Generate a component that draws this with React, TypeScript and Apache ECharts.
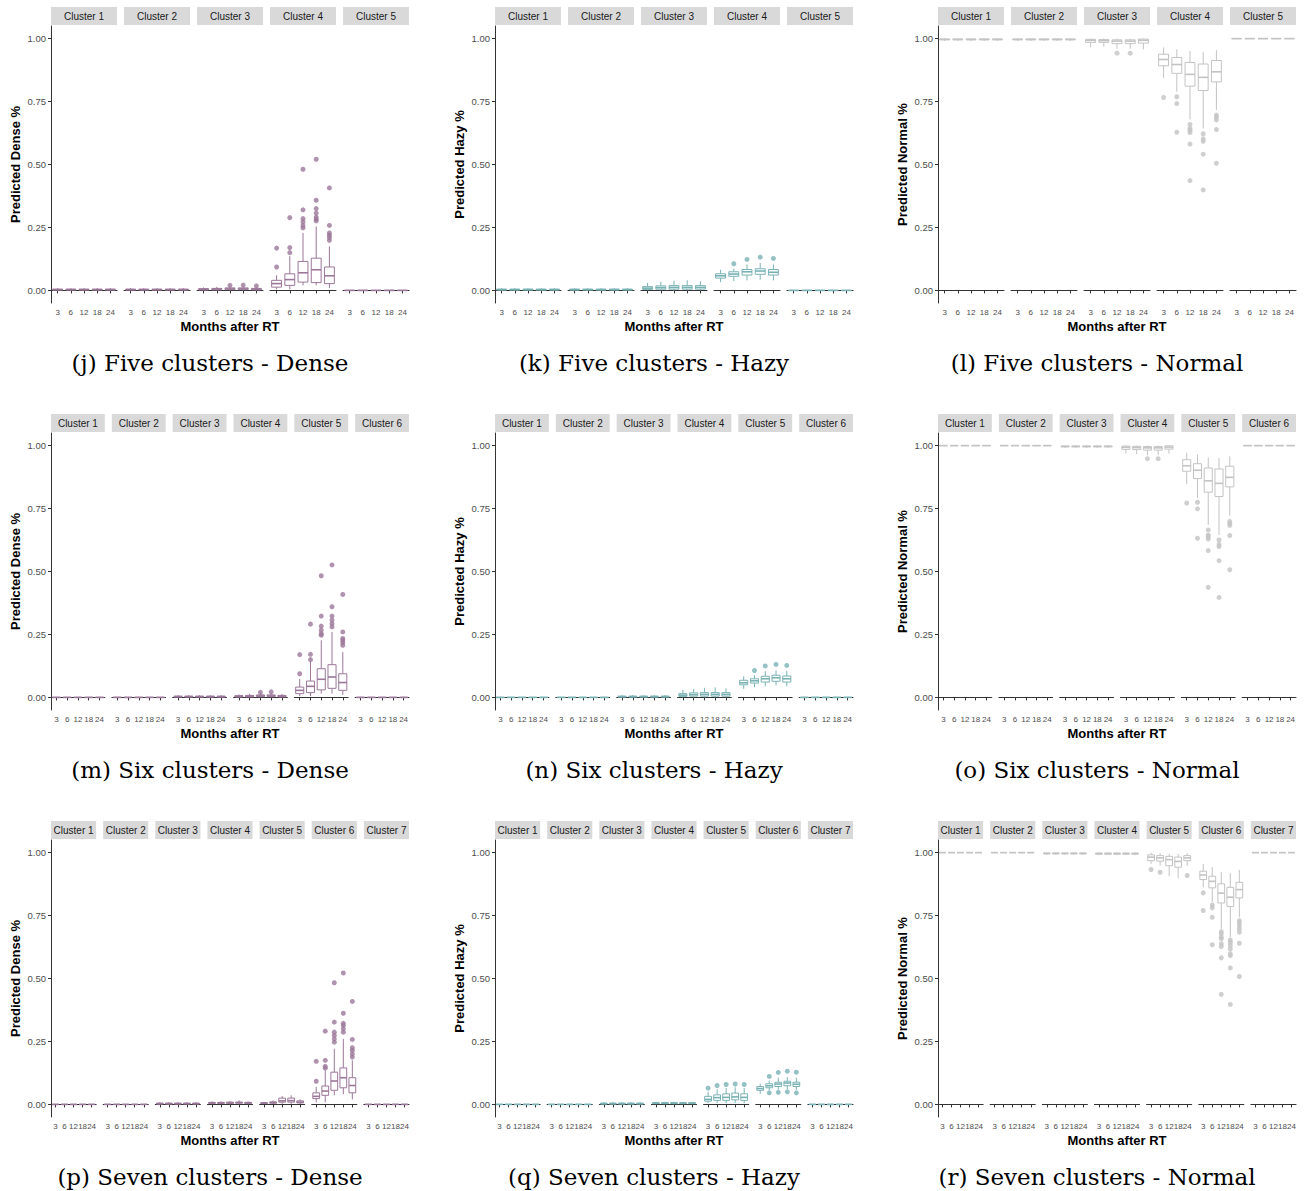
import React, { useEffect, useRef } from "react";
import * as echarts from "echarts";

// ---------- categories / labels ----------
const months = ["3", "6", "12", "18", "24"];
const yTickValues = [0, 0.25, 0.5, 0.75, 1];
const clusterCounts = [5, 6, 7];
const rowWords = ["Five", "Six", "Seven"];
const classNames = ["Dense", "Hazy", "Normal"];
const panelLetters = [["j", "k", "l"], ["m", "n", "o"], ["p", "q", "r"]];
const classColors = ["#9B7799", "#79B2B4", "#C3C3C3"];

// ---------- reusable box stats [min, q1, median, q3, max] ----------
const zeroFlat = [0, 0, 0, 0, 0];
const oneFlat = [1, 1, 1, 1, 1];
const nearZero = [0, 0.002, 0.003, 0.005, 0.009];
const nearOne = [0.991, 0.995, 0.997, 0.998, 1];

// ---------- Dense ----------
const fiveDense = [
  [nearZero, nearZero, nearZero, nearZero, nearZero],
  [nearZero, nearZero, nearZero, nearZero, nearZero],
  [[0, 0.002, 0.004, 0.007, 0.012], [0, 0.002, 0.005, 0.008, 0.014], [0, 0.003, 0.006, 0.01, 0.016], [0, 0.003, 0.006, 0.01, 0.017], [0, 0.002, 0.005, 0.008, 0.014]],
  [[0.004, 0.013, 0.027, 0.04, 0.06], [0.004, 0.02, 0.043, 0.066, 0.136], [0.02, 0.033, 0.07, 0.115, 0.228], [0.02, 0.031, 0.082, 0.128, 0.254], [0.01, 0.027, 0.058, 0.093, 0.175]],
  [zeroFlat, zeroFlat, zeroFlat, zeroFlat, zeroFlat],
];
// [cluster, month index, ...outlier values]
const fiveDenseOut = [
  [2, 2, 0.02], [2, 3, 0.021], [2, 4, 0.018],
  [3, 0, 0.093, 0.168],
  [3, 1, 0.15, 0.17, 0.289],
  [3, 2, 0.248, 0.258, 0.272, 0.285, 0.32, 0.481],
  [3, 3, 0.276, 0.283, 0.291, 0.307, 0.325, 0.358, 0.521],
  [3, 4, 0.199, 0.21, 0.219, 0.228, 0.258, 0.407],
];

const sixDense = [
  [zeroFlat, zeroFlat, zeroFlat, zeroFlat, zeroFlat],
  [zeroFlat, zeroFlat, zeroFlat, zeroFlat, zeroFlat],
  [nearZero, nearZero, nearZero, nearZero, nearZero],
  [[0, 0.002, 0.004, 0.007, 0.012], [0, 0.002, 0.005, 0.008, 0.014], [0, 0.003, 0.006, 0.01, 0.016], [0, 0.003, 0.006, 0.01, 0.017], [0, 0.002, 0.005, 0.008, 0.014]],
  [[0.005, 0.015, 0.028, 0.041, 0.074], [0.005, 0.019, 0.044, 0.065, 0.143], [0.015, 0.03, 0.072, 0.114, 0.227], [0.015, 0.036, 0.081, 0.13, 0.26], [0.01, 0.028, 0.059, 0.094, 0.18]],
  [zeroFlat, zeroFlat, zeroFlat, zeroFlat, zeroFlat],
];
const sixDenseOut = [
  [3, 2, 0.02], [3, 3, 0.022],
  [4, 0, 0.094, 0.17],
  [4, 1, 0.15, 0.171, 0.291],
  [4, 2, 0.247, 0.253, 0.267, 0.283, 0.323, 0.483],
  [4, 3, 0.28, 0.293, 0.307, 0.323, 0.36, 0.526],
  [4, 4, 0.207, 0.218, 0.227, 0.234, 0.26, 0.409],
];

const sevenDense = [
  [zeroFlat, zeroFlat, zeroFlat, zeroFlat, zeroFlat],
  [zeroFlat, zeroFlat, zeroFlat, zeroFlat, zeroFlat],
  [nearZero, nearZero, nearZero, nearZero, nearZero],
  [[0, 0.004, 0.006, 0.008, 0.012], [0, 0.004, 0.006, 0.008, 0.012], [0, 0.004, 0.006, 0.009, 0.013], [0, 0.005, 0.007, 0.009, 0.016], [0, 0.004, 0.006, 0.008, 0.012]],
  [[0.002, 0.004, 0.005, 0.007, 0.01], [0.002, 0.005, 0.007, 0.01, 0.016], [0.002, 0.009, 0.014, 0.025, 0.033], [0.002, 0.009, 0.015, 0.025, 0.036], [0.002, 0.006, 0.009, 0.014, 0.02]],
  [[0.008, 0.023, 0.032, 0.046, 0.07], [0.008, 0.036, 0.053, 0.073, 0.135], [0.036, 0.056, 0.093, 0.128, 0.221], [0.04, 0.066, 0.106, 0.145, 0.26], [0.02, 0.046, 0.075, 0.106, 0.175]],
  [zeroFlat, zeroFlat, zeroFlat, zeroFlat, zeroFlat],
];
const sevenDenseOut = [
  [5, 0, 0.092, 0.171],
  [5, 1, 0.144, 0.151, 0.175, 0.291],
  [5, 2, 0.247, 0.26, 0.274, 0.287, 0.327, 0.483],
  [5, 3, 0.287, 0.3, 0.313, 0.322, 0.362, 0.522],
  [5, 4, 0.188, 0.2, 0.214, 0.225, 0.258, 0.409],
];

// ---------- Hazy ----------
const fiveHazy = [
  [nearZero, nearZero, nearZero, nearZero, nearZero],
  [nearZero, nearZero, nearZero, nearZero, nearZero],
  [[0, 0.004, 0.009, 0.015, 0.03], [0, 0.005, 0.011, 0.018, 0.034], [0, 0.005, 0.012, 0.019, 0.038], [0, 0.005, 0.012, 0.019, 0.04], [0, 0.005, 0.012, 0.019, 0.036]],
  [[0.033, 0.049, 0.058, 0.066, 0.082], [0.037, 0.056, 0.065, 0.074, 0.086], [0.04, 0.061, 0.074, 0.083, 0.103], [0.043, 0.064, 0.077, 0.086, 0.109], [0.04, 0.061, 0.072, 0.083, 0.103]],
  [zeroFlat, zeroFlat, zeroFlat, zeroFlat, zeroFlat],
];
const fiveHazyOut = [[3, 1, 0.106], [3, 2, 0.123], [3, 3, 0.132], [3, 4, 0.127]];

const sixHazy = [
  [zeroFlat, zeroFlat, zeroFlat, zeroFlat, zeroFlat],
  [zeroFlat, zeroFlat, zeroFlat, zeroFlat, zeroFlat],
  [nearZero, nearZero, nearZero, nearZero, nearZero],
  [[0, 0.004, 0.009, 0.015, 0.03], [0, 0.005, 0.011, 0.018, 0.034], [0, 0.005, 0.012, 0.019, 0.038], [0, 0.005, 0.012, 0.019, 0.04], [0, 0.005, 0.012, 0.019, 0.036]],
  [[0.034, 0.05, 0.058, 0.068, 0.084], [0.041, 0.057, 0.066, 0.074, 0.088], [0.044, 0.061, 0.074, 0.084, 0.104], [0.048, 0.064, 0.078, 0.088, 0.107], [0.044, 0.061, 0.074, 0.085, 0.105]],
  [zeroFlat, zeroFlat, zeroFlat, zeroFlat, zeroFlat],
];
const sixHazyOut = [[4, 1, 0.107], [4, 2, 0.125], [4, 3, 0.131], [4, 4, 0.127]];

const sevenHazy = [
  [zeroFlat, zeroFlat, zeroFlat, zeroFlat, zeroFlat],
  [zeroFlat, zeroFlat, zeroFlat, zeroFlat, zeroFlat],
  [nearZero, nearZero, nearZero, nearZero, nearZero],
  [[0.001, 0.003, 0.005, 0.007, 0.01], [0.001, 0.003, 0.005, 0.007, 0.01], [0.001, 0.003, 0.005, 0.007, 0.01], [0.001, 0.003, 0.005, 0.007, 0.01], [0.001, 0.003, 0.005, 0.007, 0.01]],
  [[0.005, 0.013, 0.02, 0.032, 0.05], [0.005, 0.016, 0.027, 0.038, 0.06], [0.005, 0.016, 0.028, 0.042, 0.065], [0.005, 0.018, 0.03, 0.045, 0.068], [0.005, 0.016, 0.028, 0.042, 0.065]],
  [[0.042, 0.056, 0.063, 0.071, 0.082], [0.056, 0.066, 0.074, 0.082, 0.095], [0.058, 0.071, 0.081, 0.088, 0.106], [0.061, 0.074, 0.085, 0.092, 0.108], [0.058, 0.071, 0.08, 0.088, 0.106]],
  [zeroFlat, zeroFlat, zeroFlat, zeroFlat, zeroFlat],
];
const sevenHazyOut = [
  [4, 0, 0.065], [4, 1, 0.075], [4, 2, 0.079], [4, 3, 0.081], [4, 4, 0.079],
  [5, 1, 0.111, 0.046], [5, 2, 0.127, 0.048], [5, 3, 0.132, 0.05], [5, 4, 0.128, 0.046],
];

// ---------- Normal ----------
const fiveNormal = [
  [nearOne, nearOne, nearOne, nearOne, nearOne],
  [nearOne, nearOne, nearOne, nearOne, nearOne],
  [[0.965, 0.985, 0.993, 0.997, 1], [0.968, 0.985, 0.992, 0.996, 1], [0.96, 0.98, 0.99, 0.995, 1], [0.96, 0.98, 0.99, 0.995, 1], [0.957, 0.982, 0.993, 0.998, 1]],
  [[0.844, 0.892, 0.917, 0.938, 0.965], [0.789, 0.862, 0.897, 0.925, 0.958], [0.679, 0.811, 0.858, 0.905, 0.95], [0.643, 0.794, 0.846, 0.899, 0.946], [0.716, 0.828, 0.868, 0.913, 0.954]],
  [oneFlat, oneFlat, oneFlat, oneFlat, oneFlat],
];
const fiveNormalOut = [
  [2, 2, 0.942], [2, 3, 0.942],
  [3, 0, 0.766],
  [3, 1, 0.769, 0.742, 0.628],
  [3, 2, 0.659, 0.643, 0.636, 0.627, 0.581, 0.436],
  [3, 3, 0.622, 0.602, 0.592, 0.541, 0.399],
  [3, 4, 0.696, 0.688, 0.677, 0.639, 0.505],
];

const sixNormal = [
  [oneFlat, oneFlat, oneFlat, oneFlat, oneFlat],
  [oneFlat, oneFlat, oneFlat, oneFlat, oneFlat],
  [nearOne, nearOne, nearOne, nearOne, nearOne],
  [[0.968, 0.985, 0.993, 0.998, 1], [0.966, 0.984, 0.992, 0.997, 1], [0.962, 0.982, 0.991, 0.996, 1], [0.962, 0.982, 0.991, 0.996, 1], [0.968, 0.986, 0.994, 0.999, 1]],
  [[0.847, 0.898, 0.92, 0.944, 0.971], [0.792, 0.869, 0.902, 0.928, 0.964], [0.685, 0.815, 0.86, 0.911, 0.953], [0.645, 0.798, 0.85, 0.907, 0.951], [0.721, 0.836, 0.874, 0.918, 0.957]],
  [oneFlat, oneFlat, oneFlat, oneFlat, oneFlat],
];
const sixNormalOut = [
  [3, 2, 0.948], [3, 3, 0.948],
  [4, 0, 0.772],
  [4, 1, 0.775, 0.749, 0.632],
  [4, 2, 0.665, 0.645, 0.639, 0.629, 0.583, 0.437],
  [4, 3, 0.625, 0.608, 0.599, 0.543, 0.397],
  [4, 4, 0.699, 0.691, 0.683, 0.643, 0.507],
];

const sevenNormal = [
  [oneFlat, oneFlat, oneFlat, oneFlat, oneFlat],
  [oneFlat, oneFlat, oneFlat, oneFlat, oneFlat],
  [nearOne, nearOne, nearOne, nearOne, nearOne],
  [[0.99, 0.994, 0.996, 0.998, 1], [0.99, 0.994, 0.996, 0.998, 1], [0.99, 0.994, 0.996, 0.998, 1], [0.99, 0.994, 0.996, 0.998, 1], [0.99, 0.994, 0.996, 0.998, 1]],
  [[0.955, 0.968, 0.982, 0.991, 1], [0.948, 0.966, 0.979, 0.988, 0.998], [0.906, 0.948, 0.972, 0.985, 0.995], [0.898, 0.942, 0.965, 0.982, 0.995], [0.948, 0.968, 0.979, 0.988, 0.998]],
  [[0.862, 0.893, 0.911, 0.926, 0.955], [0.803, 0.86, 0.886, 0.906, 0.942], [0.697, 0.8, 0.839, 0.876, 0.922], [0.664, 0.786, 0.823, 0.862, 0.918], [0.743, 0.82, 0.853, 0.882, 0.931]],
  [oneFlat, oneFlat, oneFlat, oneFlat, oneFlat],
];
const sevenNormalOut = [
  [4, 0, 0.933], [4, 1, 0.922], [4, 4, 0.909],
  [5, 0, 0.84, 0.77],
  [5, 1, 0.792, 0.781, 0.743, 0.634],
  [5, 2, 0.686, 0.677, 0.664, 0.658, 0.638, 0.627, 0.582, 0.437],
  [5, 3, 0.653, 0.644, 0.631, 0.617, 0.598, 0.591, 0.542, 0.397],
  [5, 4, 0.73, 0.72, 0.709, 0.697, 0.684, 0.64, 0.508],
];

const panelBoxes = [
  [fiveDense, fiveHazy, fiveNormal],
  [sixDense, sixHazy, sixNormal],
  [sevenDense, sevenHazy, sevenNormal],
];
const panelOutliers = [
  [fiveDenseOut, fiveHazyOut, fiveNormalOut],
  [sixDenseOut, sixHazyOut, sixNormalOut],
  [sevenDenseOut, sevenHazyOut, sevenNormalOut],
];

// ---------- layout ----------
const colLeft = [51, 495, 938];
const rowTop = [26, 433, 840];
const panelW = 358;
const facetGap = 7;
const plotH = 277;
const SANS = "'Liberation Sans', Arial, sans-serif";
const SERIF = "'DejaVu Serif', 'Liberation Serif', serif";

function buildOption() {
  const grid: any[] = [];
  const xAxis: any[] = [];
  const yAxis: any[] = [];
  const series: any[] = [];
  const graphic: any[] = [];

  for (let r = 0; r < 3; r++) {
    const n = clusterCounts[r];
    const w = (panelW - facetGap * (n - 1)) / n;
    for (let c = 0; c < 3; c++) {
      const color = classColors[c];
      const boxes = panelBoxes[r][c];
      const outs = panelOutliers[r][c];
      const top = rowTop[r];
      for (let f = 0; f < n; f++) {
        const left = colLeft[c] + f * (w + facetGap);
        const idx = grid.length;
        grid.push({ left, top, width: w, height: plotH });
        xAxis.push({
          type: "category",
          gridIndex: idx,
          data: months,
          boundaryGap: true,
          axisLine: { show: true, lineStyle: { color: "#333333", width: 1 } },
          axisTick: { show: true, alignWithLabel: true, length: 3, lineStyle: { color: "#333333" } },
          axisLabel: { interval: 0, fontSize: 8, color: "#4D4D4D", margin: 5, fontFamily: SANS },
          splitLine: { show: false },
        });
        const first = f === 0;
        yAxis.push({
          type: "value",
          gridIndex: idx,
          min: -0.05,
          max: 1.05,
          show: first,
          axisLine: { show: true, lineStyle: { color: "#333333", width: 1 } },
          axisTick: { show: true, length: 3, customValues: yTickValues, lineStyle: { color: "#333333" } },
          axisLabel: {
            customValues: yTickValues,
            formatter: (v: number) => v.toFixed(2),
            fontSize: 9.5,
            color: "#4D4D4D",
            margin: 5,
            fontFamily: SANS,
          },
          splitLine: { show: false },
        });
        series.push({
          type: "custom",
          xAxisIndex: idx,
          yAxisIndex: idx,
          silent: true,
          data: boxes[f].map((s: number[], i: number) => [i, ...s]),
          encode: { x: 0, y: [1, 2, 3, 4, 5] },
          renderItem: (params: any, api: any) => {
            const xi = api.value(0);
            const pMin = api.coord([xi, api.value(1)]);
            const pQ1 = api.coord([xi, api.value(2)]);
            const pMd = api.coord([xi, api.value(3)]);
            const pQ3 = api.coord([xi, api.value(4)]);
            const pMax = api.coord([xi, api.value(5)]);
            const bw = api.size([1, 0])[0] * 0.75;
            const cx = pMd[0];
            const ls = { stroke: color, lineWidth: 1, fill: null };
            return {
              type: "group",
              children: [
                { type: "line", shape: { x1: cx, y1: pMax[1], x2: cx, y2: pQ3[1] }, style: ls },
                { type: "line", shape: { x1: cx, y1: pQ1[1], x2: cx, y2: pMin[1] }, style: ls },
                {
                  type: "rect",
                  shape: { x: cx - bw / 2, y: pQ3[1], width: bw, height: Math.max(pQ1[1] - pQ3[1], 0.01) },
                  style: { fill: "#ffffff", stroke: color, lineWidth: 1 },
                },
                { type: "line", shape: { x1: cx - bw / 2, y1: pMd[1], x2: cx + bw / 2, y2: pMd[1] }, style: { stroke: color, lineWidth: 1.6 } },
              ],
            };
          },
        });
        const pts: number[][] = [];
        outs.forEach((o: number[]) => {
          if (o[0] === f) {
            for (let k = 2; k < o.length; k++) pts.push([o[1], o[k]]);
          }
        });
        series.push({
          type: "scatter",
          xAxisIndex: idx,
          yAxisIndex: idx,
          silent: true,
          symbol: "circle",
          symbolSize: 5,
          itemStyle: { color },
          data: pts,
        });
        // facet strip
        graphic.push({
          type: "rect",
          shape: { x: left, y: top - 19, width: w, height: 18 },
          style: { fill: "#D9D9D9" },
          silent: true,
        });
        graphic.push({
          type: "text",
          x: left + w / 2,
          y: top - 10,
          silent: true,
          style: {
            text: "Cluster " + (f + 1),
            font: `10px ${SANS}`,
            fill: "#1A1A1A",
            textAlign: "center",
            textVerticalAlign: "middle",
          },
        });
      }
      // axis titles
      graphic.push({
        type: "text",
        x: colLeft[c] + panelW / 2,
        y: top + 300,
        silent: true,
        style: {
          text: "Months after RT",
          font: `bold 13px ${SANS}`,
          fill: "#000000",
          textAlign: "center",
          textVerticalAlign: "middle",
        },
      });
      graphic.push({
        type: "text",
        x: colLeft[c] - 36,
        y: top + plotH / 2,
        rotation: Math.PI / 2,
        silent: true,
        style: {
          text: "Predicted " + classNames[c] + " %",
          font: `bold 13px ${SANS}`,
          fill: "#000000",
          textAlign: "center",
          textVerticalAlign: "middle",
        },
      });
      // caption
      graphic.push({
        type: "text",
        x: colLeft[c] + 159,
        y: top + 337,
        silent: true,
        style: {
          text: `(${panelLetters[r][c]}) ${rowWords[r]} clusters - ${classNames[c]}`,
          font: `23px ${SERIF}`,
          fill: "#000000",
          textAlign: "center",
          textVerticalAlign: "middle",
        },
      });
    }
  }

  return {
    animation: false,
    backgroundColor: "#ffffff",
    grid,
    xAxis,
    yAxis,
    series,
    graphic,
  };
}

export default function App() {
  const ref = useRef<HTMLDivElement>(null);
  useEffect(() => {
    document.body.style.margin = "0";
    if (!ref.current) return;
    const chart = echarts.init(ref.current, undefined, { renderer: "svg" });
    chart.setOption(buildOption() as any);
    return () => chart.dispose();
  }, []);
  return <div ref={ref} style={{ width: 1309, height: 1191 }} />;
}
